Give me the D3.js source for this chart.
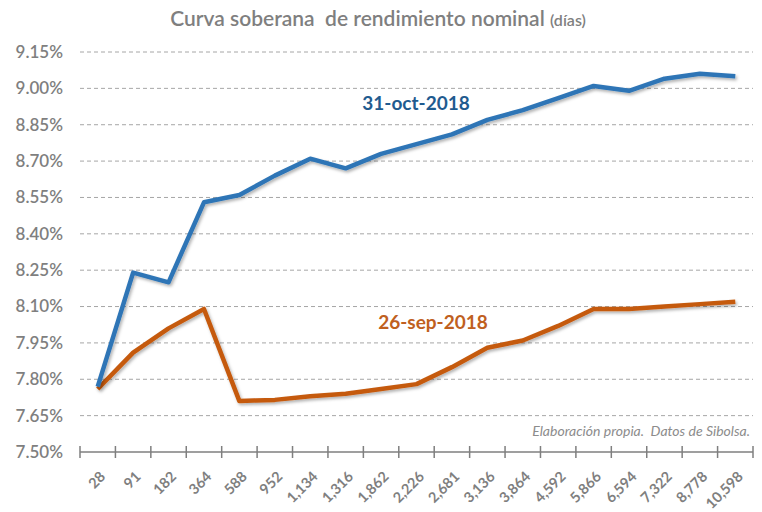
<!DOCTYPE html>
<html>
<head>
<meta charset="utf-8">
<script src="https://cdnjs.cloudflare.com/ajax/libs/d3/7.8.5/d3.min.js"></script>
<style>
  body { margin: 0; background: #fff; }
  svg { display: block; font-family: Lato, "Open Sans", sans-serif; }
</style>
</head>
<body>
<svg id="chart" width="762" height="512"></svg>
<script>
const categories = ["28","91","182","364","588","952","1,134","1,316","1,862","2,226","2,681","3,136","3,864","4,592","5,866","6,594","7,322","8,778","10,598"];
const oct2018 = [7.77,8.24,8.20,8.53,8.56,8.64,8.71,8.67,8.73,8.77,8.81,8.87,8.91,8.96,9.01,8.99,9.04,9.06,9.05];
const sep2018 = [7.76,7.91,8.01,8.09,7.71,7.715,7.73,7.74,7.76,7.78,7.85,7.93,7.96,8.02,8.09,8.09,8.10,8.11,8.12];
const yTicks = [7.50,7.65,7.80,7.95,8.10,8.25,8.40,8.55,8.70,8.85,9.00,9.15];
const seriesNames = ["31-oct-2018","26-sep-2018"];

(function () {
const svg = d3.select("#chart");
const pLeft = 80, pRight = 753, pTop = 52, pBottom = 452;

const x = d3.scaleBand().domain(categories).range([pLeft, pRight]);
const y = d3.scaleLinear().domain([7.50, 9.15]).range([pBottom, pTop]);

const defs = svg.append("defs");
const f = defs.append("filter").attr("id","shadow").attr("x","-5%").attr("y","-5%").attr("width","110%").attr("height","120%");
f.append("feDropShadow").attr("dx",1.5).attr("dy",2).attr("stdDeviation",1.5).attr("flood-color","#000").attr("flood-opacity",0.3);

// title
const title = svg.append("text").attr("x", 378).attr("y", 26).attr("text-anchor","middle")
  .attr("fill","#7f7f7f").attr("font-size",21).attr("font-weight",600);
title.append("tspan").text("Curva soberana\u00a0 de rendimiento nominal ");
title.append("tspan").attr("font-size",16).text("(días)");

// gridlines
svg.append("g").selectAll("line").data(yTicks.slice(1)).join("line")
  .attr("x1", pLeft).attr("x2", pRight)
  .attr("y1", d => y(d)).attr("y2", d => y(d))
  .attr("stroke","#a6a6a6").attr("stroke-width",1).attr("stroke-dasharray","4,3");

// y axis labels
svg.append("g").selectAll("text").data(yTicks).join("text")
  .attr("x", 63).attr("y", d => y(d)).attr("dy","0.35em")
  .attr("text-anchor","end").attr("fill","#7f7f7f").attr("font-size",17).attr("font-weight",600)
  .text(d => d.toFixed(2) + "%");

// x axis
const xAxis = svg.append("g").attr("transform", `translate(0,${pBottom})`);
xAxis.append("line").attr("x1", pLeft).attr("x2", pRight).attr("stroke","#7f7f7f").attr("stroke-width",1.5);
const tickPos = categories.map(c => x(c)).concat([pRight]);
xAxis.selectAll("line.tick").data(tickPos).join("line").attr("class","tick")
  .attr("x1", d => d).attr("x2", d => d).attr("y1", -6).attr("y2", 6)
  .attr("stroke","#7f7f7f").attr("stroke-width",1.5);
xAxis.selectAll("text").data(categories).join("text")
  .attr("transform", d => `translate(${x(d) + x.bandwidth()/2 + 5},${22}) rotate(-45)`)
  .attr("text-anchor","end").attr("dy","0.35em")
  .attr("fill","#7f7f7f").attr("font-size",14.5).attr("font-weight",700)
  .text(d => d);

// lines
const line = d3.line().x((d,i) => x(categories[i]) + x.bandwidth()/2).y(d => y(d));
svg.append("path").datum(sep2018).attr("d", line).attr("fill","none")
  .attr("stroke","#c55a11").attr("stroke-width",4.5).attr("stroke-linejoin","round").attr("filter","url(#shadow)");
svg.append("path").datum(oct2018).attr("d", line).attr("fill","none")
  .attr("stroke","#2e75b6").attr("stroke-width",4.5).attr("stroke-linejoin","round").attr("filter","url(#shadow)");

// series labels
svg.append("text").attr("x", 416).attr("y", 110).attr("text-anchor","middle")
  .attr("fill","#1f5b8f").attr("font-size",19).attr("font-weight",700).text(seriesNames[0]);
svg.append("text").attr("x", 433).attr("y", 329).attr("text-anchor","middle")
  .attr("fill","#c0601e").attr("font-size",19).attr("font-weight",700).text(seriesNames[1]);

// source note
svg.append("text").attr("x", 750).attr("y", 436).attr("text-anchor","end")
  .attr("fill","#8c8c8c").attr("font-size",14).attr("font-style","italic")
  .text("Elaboración propia.\u00a0 Datos de Sibolsa.");
})();
</script>
</body>
</html>
